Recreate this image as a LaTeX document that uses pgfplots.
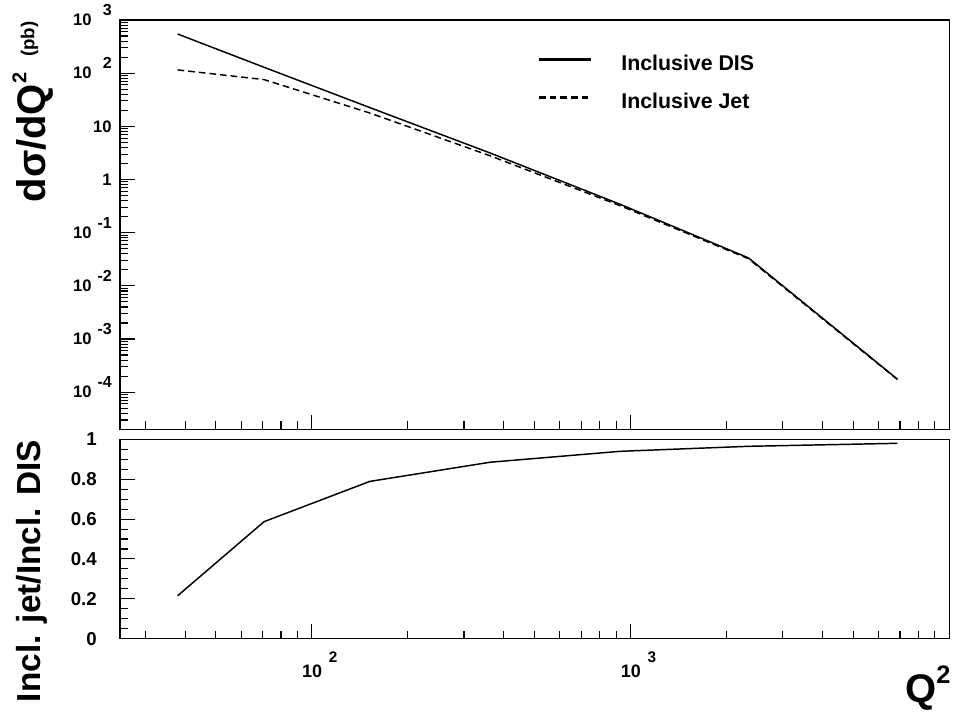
\documentclass[border=0pt]{standalone}
\usepackage{fontspec}
\setmainfont{Liberation Sans}
\usepackage{pgfplots}
\pgfplotsset{compat=1.18}

% font helpers
\newcommand{\fs}[1]{\fontsize{#1}{#1}\selectfont\bfseries}
% y tick label of the upper panel: base "10" with exponent right-aligned in a fixed box
\newcommand{\ylog}[2]{#1\makebox[15pt][r]{\smash{\raisebox{0.62em}{\fs{12}#2}}}}
% x tick label: "10" followed by a raised exponent
\newcommand{\xlog}[1]{10\hspace{5pt}\smash{\raisebox{0.83em}{\fs{11.5}#1}}}

\pgfplotstableread{
Q2     dis      jet
37.9   545      115
70.8   129      75.7
152    22.5     17.8
362    3.16     2.80
929    0.34     0.32
2344   0.0335   0.0323
6870   1.76e-4  1.73e-4
}\xsec

\pgfplotstableread{
Q2     ratio
37.9   0.215
70.8   0.587
152    0.789
362    0.885
929    0.940
2344   0.965
6870   0.980
}\ratio

\pgfplotsset{
  rootframe/.style={
    scale only axis,
    width=622pt,
    axis line style={line width=0.9pt},
    every tick/.style={line width=0.8pt, black},
    tick pos=left, tick align=inside,
    major tick length=11pt, minor tick length=6pt,
    xtick={100,1000},
    minor xtick={30,40,50,60,70,80,90,200,300,400,500,600,700,800,900,2000,3000,4000,5000,6000,7000,8000,9000},
  },
}

\begin{document}
\begin{tikzpicture}
\path[use as bounding box] (0,0) rectangle (720pt,-534pt);

% ---- cross sections ----
\begin{axis}[
  xmode=log, ymode=log,
  xmin=25, xmax=10000,
  ymin=2e-5, ymax=1000,
  rootframe,
  at={(90pt,-15pt)}, anchor=north west,
  height=307pt,
  xticklabels={},
  ytick={1e-4,1e-3,1e-2,1e-1,1,10,100,1000},
  yticklabels={\ylog{10}{-4},\ylog{10}{-3},\ylog{10}{-2},\ylog{10}{-1},1\hspace{15pt},10\hspace{15pt},\ylog{10}{2},\ylog{10}{3}},
  yticklabel style={anchor=east, inner sep=0pt, xshift=-6pt, font=\fs{12.5}},
  minor ytick={2e-5,3e-5,4e-5,5e-5,6e-5,7e-5,8e-5,9e-5,
               2e-4,3e-4,4e-4,5e-4,6e-4,7e-4,8e-4,9e-4,
               2e-3,3e-3,4e-3,5e-3,6e-3,7e-3,8e-3,9e-3,
               2e-2,3e-2,4e-2,5e-2,6e-2,7e-2,8e-2,9e-2,
               0.2,0.3,0.4,0.5,0.6,0.7,0.8,0.9,
               2,3,4,5,6,7,8,9,
               20,30,40,50,60,70,80,90,
               200,300,400,500,600,700,800,900},
  legend cell align=left,
  legend image code/.code={\draw[#1, line width=2.2pt] (0pt,2.5pt) -- (39pt,2.5pt);},
  legend style={at={(0.503,0.915)}, anchor=north west, draw=none, fill=none,
                font=\fs{16}, inner sep=0pt, row sep=17pt, column sep=21.75pt,
                nodes={inner sep=0pt, text height=11.5pt, text depth=0pt}},
]
\addplot[black, line width=1.1pt] table[x=Q2, y=dis] {\xsec};
\addlegendentry{Inclusive DIS}
\addplot[black, line width=1.1pt, dash pattern=on 5pt off 3pt] table[x=Q2, y=jet] {\xsec};
\addlegendentry{Inclusive Jet}
\end{axis}

% ---- ratio ----
\begin{axis}[
  xmode=log,
  xmin=25, xmax=10000,
  ymin=0, ymax=1,
  rootframe,
  at={(90pt,-329.5pt)}, anchor=north west,
  height=149.5pt,
  ytick={0,0.2,0.4,0.6,0.8,1},
  yticklabels={0,0.2,0.4,0.6,0.8,1},
  minor y tick num=3,
  yticklabel style={anchor=east, inner sep=0pt, xshift=-17.25pt, font=\fs{14}},
  xticklabels={\xlog{2},\xlog{3}},
  xticklabel style={anchor=north west, inner sep=0pt, xshift=-7.5pt, yshift=-19.7pt, font=\fs{13.5}},
]
\addplot[black, line width=1.1pt] table[x=Q2, y=ratio] {\ratio};
\end{axis}

% axis titles
\node[rotate=90, anchor=base east, inner sep=0pt] at (33.75pt,-16pt)
  {\fs{30}dσ/dQ\raisebox{14pt}{\fs{15}2}\hspace{12pt}\raisebox{8pt}{\fs{14}(pb)}};
\node[rotate=90, anchor=base east, inner sep=0pt] at (30pt,-330pt)
  {\fs{25}Incl. jet/Incl. DIS};
\node[anchor=base east, inner sep=0pt] at (713pt,-526.5pt)
  {\fs{30}Q\raisebox{14pt}{\fs{19}2}};
\end{tikzpicture}
\end{document}
